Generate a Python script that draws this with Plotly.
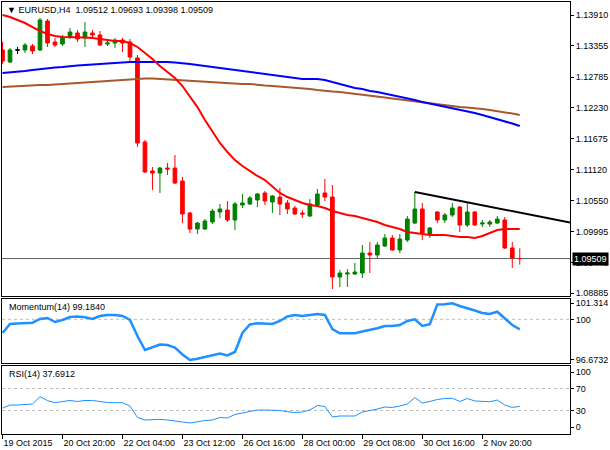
import plotly.graph_objects as go

# H4 bars, 19 Oct 2015 12:00 .. 3 Nov 2015 16:00
bars = list(range(70))

opens = [1.13278, 1.13061, 1.13278, 1.13278, 1.13350, 1.13278, 1.13802, 1.13422, 1.13386, 1.13512,
         1.13585, 1.13494, 1.13585, 1.13549, 1.13386, 1.13404, 1.13458, 1.13422, 1.13133, 1.11615,
         1.11091, 1.11055, 1.11145, 1.11145, 1.10910, 1.10332, 1.10043, 1.10043, 1.10170, 1.10350,
         1.10386, 1.10206, 1.10477, 1.10495, 1.10567, 1.10694, 1.10531, 1.10621, 1.10513, 1.10422,
         1.10332, 1.10278, 1.10477, 1.10694, 1.10621, 1.09176, 1.09230, 1.09230, 1.09248, 1.09609,
         1.09573, 1.09736, 1.09880, 1.09664, 1.09844, 1.10151, 1.10404, 1.09935, 1.10350, 1.10206,
         1.10296, 1.10441, 1.10115, 1.10350, 1.10133, 1.10133, 1.10151, 1.10206, 1.09700, 1.09512]
highs = [1.13422, 1.13314, 1.13332, 1.13404, 1.13386, 1.13856, 1.13838, 1.13494, 1.13549, 1.13675,
         1.13639, 1.13783, 1.13639, 1.13621, 1.13440, 1.13494, 1.13494, 1.13476, 1.13187, 1.11651,
         1.11163, 1.11163, 1.11236, 1.11380, 1.10983, 1.10350, 1.10170, 1.10224, 1.10404, 1.10495,
         1.10549, 1.10531, 1.10675, 1.10639, 1.10694, 1.10730, 1.10657, 1.10784, 1.10567, 1.10458,
         1.10386, 1.10585, 1.10766, 1.10946, 1.10838, 1.09302, 1.09320, 1.09429, 1.09754, 1.09808,
         1.09808, 1.09952, 1.09934, 1.09952, 1.10278, 1.10712, 1.10513, 1.10079, 1.10368, 1.10332,
         1.10513, 1.10458, 1.10513, 1.10368, 1.10206, 1.10206, 1.10278, 1.10260, 1.09808, 1.09693]
lows = [1.13025, 1.13043, 1.13205, 1.13223, 1.13205, 1.13259, 1.13332, 1.13332, 1.13350, 1.13476,
        1.13422, 1.13332, 1.13494, 1.13350, 1.13350, 1.13314, 1.13241, 1.13061, 1.11525, 1.11055,
        1.10748, 1.10694, 1.11019, 1.10856, 1.10151, 1.09971, 1.09953, 1.10025, 1.10133, 1.10242,
        1.10170, 1.10025, 1.10422, 1.10477, 1.10440, 1.10477, 1.10332, 1.10296, 1.10314, 1.10296,
        1.10242, 1.10260, 1.10440, 1.10549, 1.08959, 1.08994, 1.08994, 1.09212, 1.09158, 1.09248,
        1.09519, 1.09718, 1.09646, 1.09609, 1.09808, 1.10133, 1.09844, 1.09880, 1.10151, 1.10151,
        1.10260, 1.09989, 1.10079, 1.10097, 1.10079, 1.10079, 1.10133, 1.09682, 1.09338, 1.09398]
closes = [1.13079, 1.13278, 1.13278, 1.13368, 1.13259, 1.13820, 1.13404, 1.13368, 1.13512, 1.13603,
          1.13476, 1.13603, 1.13549, 1.13368, 1.13404, 1.13458, 1.13404, 1.13151, 1.11597, 1.11073,
          1.11055, 1.11145, 1.11127, 1.10874, 1.10314, 1.10043, 1.10151, 1.10187, 1.10368, 1.10404,
          1.10206, 1.10495, 1.10513, 1.10603, 1.10675, 1.10549, 1.10639, 1.10495, 1.10404, 1.10314,
          1.10314, 1.10495, 1.10675, 1.10621, 1.09176, 1.09248, 1.09248, 1.09266, 1.09609, 1.09573,
          1.09754, 1.09880, 1.09664, 1.09862, 1.10224, 1.10404, 1.09971, 1.10061, 1.10206, 1.10296,
          1.10422, 1.10115, 1.10350, 1.10115, 1.10151, 1.10170, 1.10224, 1.09700, 1.09519, 1.09509]
doji_bars = [2]

ma_red = [1.13910, 1.13874, 1.13820, 1.13765, 1.13693, 1.13621, 1.13567, 1.13530, 1.13512, 1.13512,
          1.13512, 1.13503, 1.13494, 1.13476, 1.13458, 1.13440, 1.13440, 1.13404, 1.13332, 1.13223,
          1.13115, 1.12988, 1.12880, 1.12772, 1.12627, 1.12446, 1.12246, 1.12013, 1.11796, 1.11597,
          1.11434, 1.11290, 1.11181, 1.11091, 1.11001, 1.10928, 1.10802, 1.10694, 1.10621, 1.10567,
          1.10513, 1.10477, 1.10459, 1.10423, 1.10368, 1.10332, 1.10296, 1.10278, 1.10242, 1.10206,
          1.10170, 1.10116, 1.10080, 1.10044, 1.09989, 1.09971, 1.09953, 1.09935, 1.09935, 1.09935,
          1.09917, 1.09899, 1.09899, 1.09881, 1.09917, 1.09971, 1.10025, 1.10044, 1.10044, 1.10044]
ma_blue = [1.12862, 1.12871, 1.12880, 1.12898, 1.12916, 1.12934, 1.12952, 1.12961, 1.12970, 1.12988,
           1.12997, 1.13006, 1.13016, 1.13025, 1.13034, 1.13043, 1.13052, 1.13061, 1.13061, 1.13061,
           1.13070, 1.13070, 1.13061, 1.13052, 1.13043, 1.13025, 1.13006, 1.12988, 1.12970, 1.12952,
           1.12934, 1.12916, 1.12898, 1.12880, 1.12862, 1.12844, 1.12826, 1.12808, 1.12790, 1.12772,
           1.12754, 1.12754, 1.12754, 1.12735, 1.12699, 1.12663, 1.12627, 1.12591, 1.12573, 1.12537,
           1.12519, 1.12491, 1.12464, 1.12428, 1.12401, 1.12374, 1.12338, 1.12311, 1.12284, 1.12257,
           1.12230, 1.12203, 1.12176, 1.12140, 1.12103, 1.12067, 1.12031, 1.11995, 1.11949, 1.11904]
ma_brown = [1.12609, 1.12618, 1.12618, 1.12627, 1.12636, 1.12645, 1.12645, 1.12654, 1.12663, 1.12672,
            1.12681, 1.12690, 1.12699, 1.12717, 1.12726, 1.12735, 1.12744, 1.12754, 1.12763, 1.12763,
            1.12763, 1.12754, 1.12754, 1.12744, 1.12735, 1.12726, 1.12717, 1.12708, 1.12699, 1.12690,
            1.12681, 1.12672, 1.12663, 1.12663, 1.12645, 1.12636, 1.12627, 1.12618, 1.12609, 1.12591,
            1.12582, 1.12573, 1.12555, 1.12537, 1.12528, 1.12519, 1.12500, 1.12482, 1.12464, 1.12446,
            1.12437, 1.12419, 1.12401, 1.12383, 1.12365, 1.12347, 1.12329, 1.12311, 1.12293, 1.12275,
            1.12266, 1.12247, 1.12238, 1.12230, 1.12212, 1.12194, 1.12176, 1.12157, 1.12130, 1.12103]

momentum = [98.883, 99.620, 99.661, 99.702, 99.726, 100.029, 100.111, 99.783, 99.947, 100.193,
            100.234, 100.168, 100.029, 100.275, 100.357, 100.357, 100.275, 99.947, 98.638, 97.492,
            97.737, 97.942, 97.901, 97.696, 97.124, 96.673, 96.771, 96.919, 97.083, 97.205,
            97.042, 97.328, 98.883, 99.579, 99.677, 99.620, 99.620, 99.865, 100.234, 100.357,
            100.275, 100.357, 100.438, 100.357, 99.210, 98.858, 98.858, 98.858, 99.006, 99.129,
            99.268, 99.456, 99.456, 99.538, 99.865, 100.004, 99.456, 99.595, 101.216, 101.232,
            101.314, 101.093, 100.929, 100.725, 100.520, 100.438, 100.626, 100.086, 99.538, 99.184]
rsi = [34.5, 40.0, 40.0, 40.9, 41.8, 55.0, 48.0, 44.2, 46.4, 48.2,
       46.4, 48.2, 48.2, 46.0, 44.5, 44.2, 44.2, 38.2, 17.3, 12.7,
       13.6, 14.0, 12.7, 11.5, 9.1, 7.3, 10.0, 11.8, 12.7, 17.3,
       16.4, 22.7, 25.5, 28.2, 30.9, 30.9, 30.9, 30.0, 27.8, 26.4,
       27.3, 30.9, 39.1, 37.3, 18.2, 20.0, 20.0, 20.0, 27.3, 29.6,
       32.7, 36.4, 35.5, 38.2, 41.8, 53.6, 43.6, 46.4, 50.0, 51.8,
       52.2, 46.4, 51.8, 47.3, 46.0, 46.0, 49.1, 40.0, 35.5, 37.6912]

trend_x = [55, 75.7]
trend_y = [1.10712, 1.10161]
last_price = 1.09509

price_ticks = [1.13910, 1.13355, 1.12785, 1.12230, 1.11675, 1.11120, 1.10550, 1.09995, 1.09440, 1.08885]
mom_ticks = [101.314, 100, 96.6732]
mom_tick_text = ["101.314", "100", "96.6732"]
mom_level = 100
rsi_ticks = [100, 70, 30, 0]
rsi_levels = [70, 30]
date_ticks = [0, 8, 16, 24, 32, 40, 48, 56, 64]
date_labels = ["19 Oct 2015", "20 Oct 20:00", "22 Oct 04:00", "23 Oct 12:00", "26 Oct 16:00",
               "28 Oct 00:00", "29 Oct 08:00", "30 Oct 16:00", "2 Nov 20:00"]

UP = "#008000"
DOWN = "#FF0000"
FONT = "Liberation Sans"

fig = go.Figure()

fig.add_trace(go.Candlestick(
    x=bars, open=opens, high=highs, low=lows, close=closes,
    increasing=dict(line=dict(color=UP, width=1), fillcolor=UP),
    decreasing=dict(line=dict(color=DOWN, width=1), fillcolor=DOWN),
    xaxis="x", yaxis="y", hoverinfo="skip"
))

# black doji candles
fig.add_trace(go.Candlestick(
    x=[bars[i] for i in doji_bars],
    open=[opens[i] for i in doji_bars], high=[highs[i] for i in doji_bars],
    low=[lows[i] for i in doji_bars], close=[closes[i] for i in doji_bars],
    increasing=dict(line=dict(color="black", width=1), fillcolor="black"),
    decreasing=dict(line=dict(color="black", width=1), fillcolor="black"),
    xaxis="x", yaxis="y", hoverinfo="skip"
))

for vals, col in [(ma_brown, "#A9582C"), (ma_blue, "#0000FF"), (ma_red, "#FF0000")]:
    fig.add_trace(go.Scatter(x=bars, y=vals, mode="lines", line=dict(color=col, width=2),
                             xaxis="x", yaxis="y", hoverinfo="skip"))

fig.add_trace(go.Scatter(x=trend_x, y=trend_y, mode="lines", line=dict(color="black", width=2),
                         xaxis="x", yaxis="y", hoverinfo="skip"))

fig.add_trace(go.Scatter(x=bars, y=momentum, mode="lines", line=dict(color="#1E90FF", width=2.5),
                         xaxis="x2", yaxis="y2", hoverinfo="skip"))
fig.add_trace(go.Scatter(x=bars, y=rsi, mode="lines", line=dict(color="#1E90FF", width=1),
                         xaxis="x3", yaxis="y3", hoverinfo="skip"))

# levels
shapes = [dict(type="line", xref="x domain", yref="y", x0=0, x1=1, y0=last_price, y1=last_price,
               line=dict(color="#606060", width=1), layer="below")]
shapes.append(dict(type="line", xref="x2 domain", yref="y2", x0=0, x1=1, y0=mom_level, y1=mom_level,
                   line=dict(color="#BDBDBD", width=1, dash="dot"), layer="below"))
for lv in rsi_levels:
    shapes.append(dict(type="line", xref="x3 domain", yref="y3", x0=0, x1=1, y0=lv, y1=lv,
                       line=dict(color="#BDBDBD", width=1, dash="dot"), layer="below"))

lbl = dict(font=dict(family=FONT, size=9, color="black"), showarrow=False,
           xanchor="left", yanchor="middle")
annotations = [
    dict(text=f"▼ EURUSD,H4  {opens[-1]:.5f} {highs[-1]:.5f} {lows[-1]:.5f} {closes[-1]:.5f}",
         xref="x domain", yref="y domain", x=0.005, y=0.973, **lbl),
    dict(text=f"Momentum(14) {momentum[-1]:.4f}",
         xref="x2 domain", yref="y2 domain", x=0.008, y=0.875, **lbl),
    dict(text=f"RSI(14) {rsi[-1]:.4f}",
         xref="x3 domain", yref="y3 domain", x=0.008, y=0.882, **lbl),
    dict(text=f"{last_price:.5f}", xref="paper", yref="y", x=1, y=last_price, xshift=2,
         showarrow=False, xanchor="left", yanchor="middle", bgcolor="black", borderpad=1,
         font=dict(family=FONT, size=9, color="white")),
]

frame = dict(showline=True, mirror=True, linecolor="black", linewidth=1,
             showgrid=False, zeroline=False, automargin=False)
xr = [-0.07, 75.7]
yax = dict(side="right", ticks="outside", ticklen=3, tickcolor="black",
           tickfont=dict(family=FONT, size=9, color="black"), **frame)

fig.update_layout(
    width=610, height=450,
    margin=dict(l=2, r=40, t=2, b=16),
    paper_bgcolor="white", plot_bgcolor="white",
    showlegend=False,
    font=dict(family=FONT, size=9, color="black"),
    xaxis=dict(domain=[0, 1], anchor="y", range=xr, showticklabels=False,
               rangeslider=dict(visible=False), **frame),
    xaxis2=dict(domain=[0, 1], anchor="y2", range=xr, showticklabels=False, matches="x",
                rangeslider=dict(visible=False), **frame),
    xaxis3=dict(domain=[0, 1], anchor="y3", range=xr, matches="x",
                tickvals=date_ticks, ticktext=date_labels, tickangle=0,
                ticks="outside", ticklen=4, tickcolor="black",
                ticklabelposition="outside right",
                tickfont=dict(family=FONT, size=9, color="black"),
                rangeslider=dict(visible=False), **frame),
    yaxis=dict(domain=[0.3194, 1], range=[1.08832, 1.14145],
               tickvals=price_ticks, ticktext=[f"{v:.5f}" for v in price_ticks], **yax),
    yaxis2=dict(domain=[0.1644, 0.3125], range=[96.428, 101.666],
                tickvals=mom_ticks, ticktext=mom_tick_text, **yax),
    yaxis3=dict(domain=[0, 0.1574], range=[-12.7, 110.9],
                tickvals=rsi_ticks, ticktext=[str(v) for v in rsi_ticks], **yax),
    shapes=shapes,
    annotations=annotations,
)

# the page's default body margin would shift the figure by 8px
fig.write_html("out.html", config={"displayModeBar": False},
               post_script="document.body.style.margin='0';")
